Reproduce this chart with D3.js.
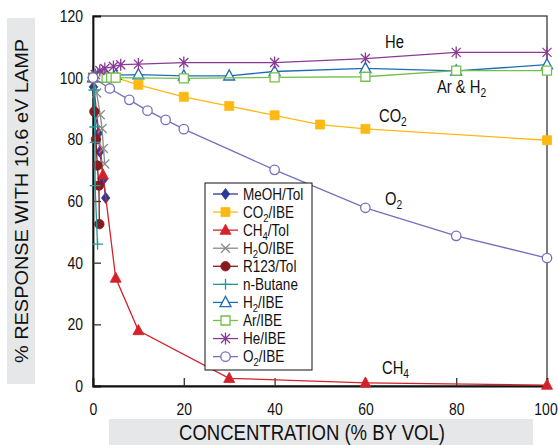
<!DOCTYPE html>
<html>
<head>
<meta charset="utf-8">
<script src="https://cdn.jsdelivr.net/npm/d3@7"></script>
<style>
  html, body { margin: 0; padding: 0; background: #fff; }
  svg { display: block; }
  text { font-family: "Liberation Sans", Arial, sans-serif; fill: #111; }
</style>
</head>
<body>
<svg id="chart" width="558" height="445"></svg>
<script>
// Axis ticks
const xTicks = [0, 20, 40, 60, 80, 100];
const yTicks = [0, 20, 40, 60, 80, 100, 120];

// Series: concentration (% by vol) and % response with 10.6 eV lamp
const meohX = [0, 0.1, 0.5, 1.2, 1.5, 2.3, 2.8];
const meohY = [100, 97, 89, 82, 76, 67, 61];
const co2X = [0, 1, 2, 3, 5, 10, 20, 30, 40, 50, 60, 100];
const co2Y = [100, 100, 100, 100, 100, 97.7, 93.8, 90.8, 87.8, 84.8, 83.4, 79.7];
const ch4X = [0, 2.2, 5, 10, 30, 60, 100];
const ch4Y = [100, 68.5, 35, 18, 2.5, 1, 0.3];
const h2oX = [0, 0.8, 1.6, 2.0, 2.3, 2.6];
const h2oY = [100, 95, 88, 83.5, 77, 72];
const r123X = [0, 0.3, 0.65, 0.95, 1.3, 1.4];
const r123Y = [100, 89, 80, 71.5, 65, 52.5];
const butaneX = [0, 0.2, 0.4, 0.5, 0.45, 1.0];
const butaneY = [100, 96, 84, 79, 65, 46];
const h2X = [0, 1, 2, 3, 5, 10, 20, 30, 40, 60, 80, 100];
const h2Y = [100, 100.5, 100.5, 100.5, 100.8, 101, 100.6, 100.6, 102, 103, 102.2, 104.2];
const arX = [0, 1, 2, 3, 4, 5, 20, 40, 60, 80, 100];
const arY = [100, 100, 100, 100, 100, 100, 99.8, 100.1, 100.3, 102.3, 102.3];
const heX = [0, 0.5, 1.5, 2.6, 4.5, 6.1, 10, 20, 40, 60, 80, 100];
const heY = [100, 101, 102.3, 103, 103.6, 104.2, 104.4, 104.9, 104.9, 106.2, 108.2, 108.2];
const o2X = [0, 3.7, 8, 12, 16, 20, 40, 60, 80, 100];
const o2Y = [100, 96.5, 92.8, 89.3, 86.3, 83.3, 70.1, 57.8, 48.7, 41.5];

// Legend labels ("_" marks a subscript digit)
const seriesNames = ["MeOH/Tol", "CO_2/IBE", "CH_4/Tol", "H_2O/IBE", "R123/Tol",
  "n-Butane", "H_2/IBE", "Ar/IBE", "He/IBE", "O_2/IBE"];

const series = [
  { name: seriesNames[0], xs: meohX, ys: meohY, color: "#2b3a92", shape: "diamond", fill: true },
  { name: seriesNames[1], xs: co2X, ys: co2Y, color: "#fdb913", shape: "square", fill: true },
  { name: seriesNames[2], xs: ch4X, ys: ch4Y, color: "#d3222b", shape: "triangle", fill: true },
  { name: seriesNames[3], xs: h2oX, ys: h2oY, color: "#8c8c8c", shape: "x", fill: false },
  { name: seriesNames[4], xs: r123X, ys: r123Y, color: "#861a1e", shape: "circle", fill: true },
  { name: seriesNames[5], xs: butaneX, ys: butaneY, color: "#1f9a98", shape: "plus", fill: false },
  { name: seriesNames[6], xs: h2X, ys: h2Y, color: "#1f6db6", shape: "triangle", fill: false },
  { name: seriesNames[7], xs: arX, ys: arY, color: "#72c04a", shape: "square", fill: false },
  { name: seriesNames[8], xs: heX, ys: heY, color: "#8a3a96", shape: "asterisk", fill: false },
  { name: seriesNames[9], xs: o2X, ys: o2Y, color: "#7470bf", shape: "circle", fill: false }
];

const svg = d3.select("#chart");
const plot = { left: 93, right: 547, top: 16, bottom: 386 };

const x = d3.scaleLinear().domain([0, 100]).range([plot.left, plot.right]);
const y = d3.scaleLinear().domain([0, 120]).range([plot.bottom, plot.top]);

// Squeeze a text horizontally to give it a condensed look
function condense(sel, factor) {
  sel.each(function () {
    const w = this.getComputedTextLength();
    if (w > 0) {
      d3.select(this).attr("textLength", (w * factor).toFixed(1))
        .attr("lengthAdjust", "spacingAndGlyphs");
    }
  });
}

// Axis title backgrounds
svg.append("rect").attr("x", 7).attr("y", 18).attr("width", 28).attr("height", 366).attr("fill", "#e6e7e8");
svg.append("rect").attr("x", 109).attr("y", 419).attr("width", 424).attr("height", 26).attr("fill", "#e6e7e8");

// Frame
svg.append("rect")
  .attr("x", plot.left).attr("y", plot.top)
  .attr("width", plot.right - plot.left).attr("height", plot.bottom - plot.top)
  .attr("fill", "none").attr("stroke", "#3a3a3a").attr("stroke-width", 1.3);

// Axes with inward ticks
const yAxis = d3.axisLeft(y).tickValues(yTicks).tickSize(-8).tickPadding(18);
const xAxis = d3.axisBottom(x).tickValues(xTicks).tickSize(-8).tickPadding(17);

const gy = svg.append("g").attr("transform", `translate(${plot.left},0)`).call(yAxis);
const gx = svg.append("g").attr("transform", `translate(0,${plot.bottom})`).call(xAxis);
[gx, gy].forEach(g => {
  g.select(".domain").attr("stroke", "#111").attr("stroke-width", 1.8);
  g.selectAll(".tick line").attr("stroke", "#333").attr("stroke-width", 1.3);
  g.selectAll(".tick text")
    .style("font-family", '"Liberation Sans", Arial, sans-serif')
    .style("font-size", "17px").attr("fill", "#111");
});
gy.selectAll(".tick line").filter(d => d === 0 || d === 120).remove();
gx.selectAll(".tick line").filter(d => d === 0 || d === 100).remove();
gy.selectAll(".tick text").attr("dx", "8");
gx.selectAll(".tick text").filter(d => d === 100).attr("dx", "-1.5");
condense(gy.selectAll(".tick text"), 0.82);
condense(gx.selectAll(".tick text"), 0.82);

// Marker shapes
function markerPath(shape) {
  switch (shape) {
    case "diamond": return "M0,-5.5L4.2,0L0,5.5L-4.2,0Z";
    case "square": return "M-4.5,-4.5H4.5V4.5H-4.5Z";
    case "triangle": return "M0,-6L5.5,4.2H-5.5Z";
    case "circle": return d3.symbol(d3.symbolCircle, 70)();
    case "x": return "M-4.5,-4.5L4.5,4.5M-4.5,4.5L4.5,-4.5";
    case "plus": return "M-5.5,0H5.5M0,-5.5V5.5";
    case "asterisk": return "M-4.5,-4.5L4.5,4.5M-4.5,4.5L4.5,-4.5M0,-6V6";
  }
}
function styleMarker(sel, s) {
  const open = !s.fill;
  const lineShape = s.shape === "x" || s.shape === "plus" || s.shape === "asterisk";
  sel.attr("d", markerPath(s.shape))
    .attr("fill", open ? (lineShape ? "none" : "#fff") : s.color)
    .attr("stroke", s.color)
    .attr("stroke-width", open ? 1.3 : 0.8);
}

const line = d3.line().x(d => x(d[0])).y(d => y(d[1]));

series.forEach(s => {
  const pts = s.xs.map((v, i) => [v, s.ys[i]]);
  const g = svg.append("g");
  g.append("path").datum(pts).attr("d", line)
    .attr("fill", "none").attr("stroke", s.color).attr("stroke-width", 1.3);
  g.selectAll("path.m").data(pts).join("path").attr("class", "m")
    .attr("transform", d => `translate(${x(d[0])},${y(d[1])})`)
    .call(sel => styleMarker(sel, s));
});

// Text with subscripts marked by "_"
function richText(textSel, label, subSize) {
  const parts = label.split(/(_\d)/).filter(p => p);
  let lowered = false;
  parts.forEach(p => {
    if (p.startsWith("_")) {
      textSel.append("tspan").text(p.slice(1)).attr("dy", 4).style("font-size", subSize);
      lowered = true;
    } else {
      const t = textSel.append("tspan").text(p);
      if (lowered) { t.attr("dy", -4); lowered = false; }
    }
  });
}

// Legend
const leg = svg.append("g");
leg.append("rect").attr("x", 205).attr("y", 183).attr("width", 107).attr("height", 187)
  .attr("fill", "#fff").attr("stroke", "#111").attr("stroke-width", 1);
series.forEach((s, i) => {
  const cy = 194 + i * 18.07;
  leg.append("line").attr("x1", 213).attr("x2", 238).attr("y1", cy).attr("y2", cy)
    .attr("stroke", s.color).attr("stroke-width", 1.3);
  leg.append("path").attr("transform", `translate(225.5,${cy})`).call(sel => styleMarker(sel, s));
  const t = leg.append("text").attr("x", 243).attr("y", cy + 5.5).style("font-size", "16.5px");
  richText(t, s.name, "11.5px");
  condense(t, 0.82);
});

// Curve annotations
const notes = [
  { label: "He", x: 385, y: 48 },
  { label: "Ar & H_2", x: 437, y: 93 },
  { label: "CO_2", x: 379, y: 122 },
  { label: "O_2", x: 385, y: 205 },
  { label: "CH_4", x: 382, y: 374 }
];
notes.forEach(n => {
  const t = svg.append("text").attr("x", n.x).attr("y", n.y).style("font-size", "18px");
  richText(t, n.label, "12.5px");
  condense(t, 0.82);
});

// Axis titles
svg.append("text")
  .attr("transform", "translate(28,201) rotate(-90)")
  .attr("text-anchor", "middle")
  .attr("textLength", 324).attr("lengthAdjust", "spacingAndGlyphs")
  .style("font-size", "19px")
  .text("% RESPONSE WITH 10.6 eV LAMP");
svg.append("text")
  .attr("x", 312).attr("y", 440)
  .attr("text-anchor", "middle")
  .attr("textLength", 266).attr("lengthAdjust", "spacingAndGlyphs")
  .style("font-size", "22px")
  .text("CONCENTRATION (% BY VOL)");
</script>
</body>
</html>
